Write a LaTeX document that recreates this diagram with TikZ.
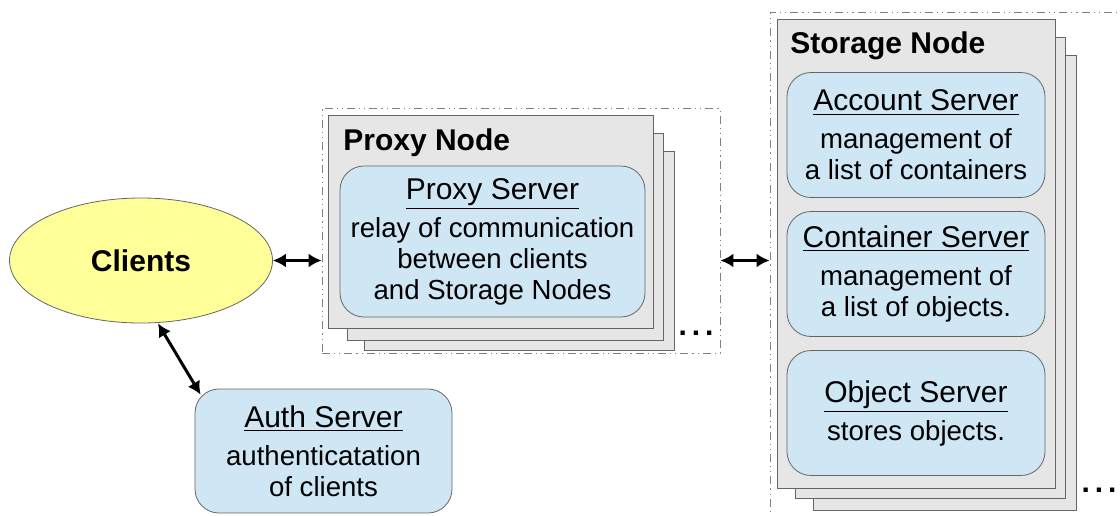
\documentclass[tikz,border=0pt]{standalone}
\usepackage{fontspec}
\setmainfont{Liberation Sans}
\usetikzlibrary{arrows.meta,positioning,shapes.geometric}
\definecolor{srvblue}{HTML}{CFE7F5}
\definecolor{nodegray}{HTML}{E6E6E6}
\definecolor{clientyel}{HTML}{FFFF99}
\definecolor{edgegray}{HTML}{666666}
\newcommand{\srvtitle}[1]{{\fontsize{15}{15.5}\selectfont\underline{#1}}}

\begin{document}
\begin{tikzpicture}[x=0.5pt,y=-0.5pt,
  >={Latex[length=6.5pt,width=7pt]},
  body/.style={font=\fontsize{13.8}{15.5}\selectfont},
  server/.style={draw=edgegray,fill=srvblue,rounded corners=12pt,align=center,
                 inner sep=0pt,body},
  machine/.style={draw=edgegray,fill=nodegray,inner sep=0pt},
  layer/.style={draw=edgegray,fill=nodegray},
  group/.style={draw=gray,dash pattern=on 4pt off 2pt on 0.6pt off 2pt on 0.6pt off 2pt,
                inner sep=0pt},
  heading/.style={font=\fontsize{15}{18}\selectfont\bfseries,anchor=base west,inner sep=0pt},
  more/.style={font=\fontsize{15}{18}\selectfont\bfseries,inner sep=0pt},
  link/.style={<->,line width=1.5pt}
]
\clip (0,0) rectangle (1120,515);

% groups
\node[group,minimum width=199pt,minimum height=122.5pt] (proxyframe) at (521,230.5) {};
\node[group,minimum width=180pt,minimum height=259pt] (storageframe) at (950,271) {};

% proxy node
\draw[layer] (364,151) rectangle (674,350);
\draw[layer] (347,133) rectangle (663,340);
\node[machine,minimum width=162.5pt,minimum height=106.5pt] (proxynode) at (490.5,221.5) {};
\node[heading] (proxyhead) at (343,150) {Proxy Node};
\node[server,minimum width=152.5pt,minimum height=75.5pt] (proxysrv) at (492.5,241.5)
  {\srvtitle{Proxy Server}\\[3.5pt]relay of communication\\between clients\\and Storage Nodes};
\node[more] (proxymore) at (696,333) {.\,.\,.};

% storage node
\draw[layer] (813,55) rectangle (1076,510);
\draw[layer] (795,37) rectangle (1065,498);
\node[machine,minimum width=139pt,minimum height=234.5pt] (storagenode) at (916,253.5) {};
\node[heading] (storagehead) at (790,53) {Storage Node};
\node[server,minimum width=129pt,minimum height=62.5pt] (account) at (916,135)
  {\srvtitle{Account Server}\\[3.5pt]management of\\a list of containers};
\node[server,minimum width=129pt,minimum height=62.5pt] (container) at (916,274)
  {\srvtitle{Container Server}\\[3.5pt]management of\\a list of objects.};
\node[server,minimum width=129pt,minimum height=62.5pt] (object) at (916,413)
  {\srvtitle{Object Server}\\[3.5pt]stores objects.};
\node[more] (storagemore) at (1099,490) {.\,.\,.};

% clients and auth
\node[ellipse,draw=edgegray,fill=clientyel,inner sep=0pt,minimum width=131.5pt,
      minimum height=62.5pt,font=\fontsize{15}{18}\selectfont\bfseries] (clients) at (141,260.5) {Clients};
\node[server,minimum width=128.5pt,minimum height=62pt] (auth) at (323.5,451)
  {\srvtitle{Auth Server}\\[3.5pt]authenticatation\\of clients};

\draw[link] (clients.east) -- (clients.east -| proxyframe.west);
\draw[link] (proxyframe.east |- clients.east) -- (storageframe.west |- clients.east);
\draw[link] ([xshift=8.5pt]clients.south) -- ([shift={(6,6)}]auth.north west);
\end{tikzpicture}
\end{document}
